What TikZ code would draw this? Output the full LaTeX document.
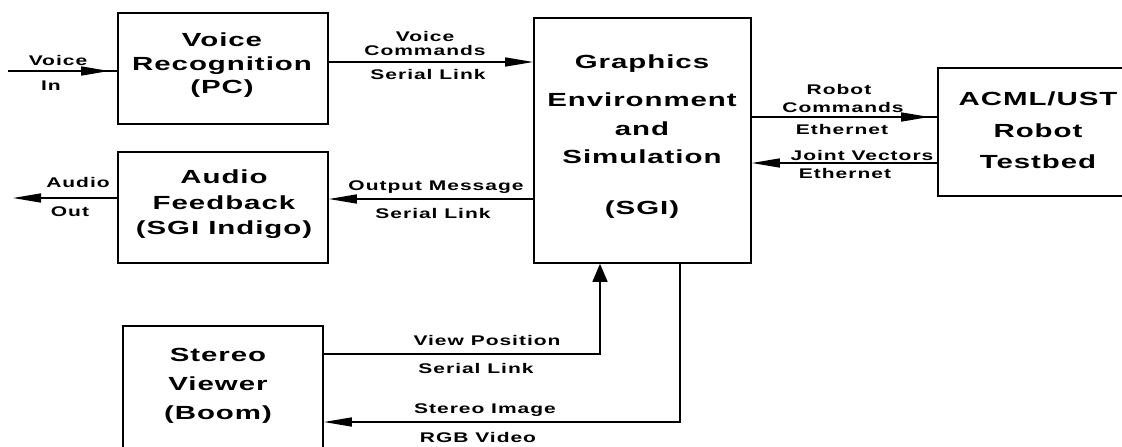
\documentclass[tikz,border=0pt]{standalone}
\usepackage{fontspec}
\newfontfamily\boxfont{Liberation Sans}[FakeStretch=1.55,LetterSpace=5]
\newfontfamily\lblfont{Liberation Sans}[FakeStretch=1.5,LetterSpace=7]
\usetikzlibrary{arrows.meta}
\begin{document}
\begin{tikzpicture}[x=1pt,y=-1pt,
  box/.style={draw,line width=1.6pt,inner sep=0pt},
  btxt/.style={align=center,inner sep=0pt,font=\boxfont\bfseries\fontsize{19}{#1}\selectfont},
  lbl/.style={inner sep=0pt,text height=10pt,text depth=0pt,font=\lblfont\bfseries\fontsize{14}{16}\selectfont},
  conn/.style={line width=1.5pt},
  tip/.style={-{Triangle[length=28pt,width=9pt]}},
  uptip/.style={-{Triangle[length=18pt,width=15pt]}}]
\useasboundingbox (0,0) rectangle (1122,447);

% boxes
\node[box,minimum width=210pt,minimum height=111pt] (vr) at (223,68.5) {};
\node[box,minimum width=210pt,minimum height=111pt] (af) at (223,207.5) {};
\node[box,minimum width=217pt,minimum height=245pt] (ge) at (642.5,140.5) {};
\node[box,minimum width=212pt,minimum height=128pt] (ac) at (1044,132) {};
\node[box,minimum width=200pt,minimum height=150pt] (sv) at (223,401) {};

% box texts
\node[btxt=23.5] (vrt) at (222,65.5) {Voice\\Recognition\\(PC)};
\node[btxt=25.5] (aft) at (224,204.5) {Audio\\Feedback\\(SGI Indigo)};
\node[btxt=28.5] (get) at (642,137) {Graphics\\[9.5pt]Environment\\and\\Simulation\\[22.5pt](SGI)};
\node[btxt=31.5] (act) at (1038,130.5) {ACML/UST\\Robot\\Testbed};
\node[btxt=29] (svt) at (218,386) {Stereo\\Viewer\\(Boom)};

% coordinates of connector levels
\coordinate (vin) at (8,71);
\coordinate (vc) at (0,62);
\coordinate (aout) at (13,198);
\coordinate (om) at (0,199);
\coordinate (rc) at (0,117);
\coordinate (jv) at (0,163);
\coordinate (vp) at (600,354);
\coordinate (si) at (680,422);

% connectors
\draw[conn] (vin) -- (vr.west |- vin);
\draw[conn,tip,shorten >=8pt] (vin) -- (vr.west |- vin);
\draw[conn,tip] (vr.east |- vc) -- (ge.west |- vc);
\draw[conn,tip] (af.west |- aout) -- (aout);
\draw[conn,tip] (ge.west |- om) -- (af.east |- om);
\draw[conn] (ge.east |- rc) -- (ac.west |- rc);
\draw[conn,tip,shorten >=8pt] (ge.east |- rc) -- (ac.west |- rc);
\draw[conn,tip] (ac.west |- jv) -- (ge.east |- jv);
\draw[conn,uptip] (sv.east |- vp) -| (ge.south -| vp);
\draw[conn,tip] (ge.south -| si) |- (sv.east |- si);

% labels
\node[lbl] (l1) at (58,60) {Voice};
\node[lbl] (l2) at (51,85) {In};
\node[lbl] (l3) at (425,36) {Voice};
\node[lbl] (l4) at (425,50) {Commands};
\node[lbl] (l5) at (428,74) {Serial Link};
\node[lbl] (l6) at (436,185) {Output Message};
\node[lbl] (l7) at (433,213) {Serial Link};
\node[lbl] (l8) at (78,182) {Audio};
\node[lbl] (l9) at (70,211) {Out};
\node[lbl] (l10) at (839,89) {Robot};
\node[lbl] (l11) at (843,107) {Commands};
\node[lbl] (l12) at (842,129) {Ethernet};
\node[lbl] (l13) at (862,155) {Joint Vectors};
\node[lbl] (l14) at (845,173) {Ethernet};
\node[lbl] (l15) at (487,340) {View Position};
\node[lbl] (l16) at (476,368) {Serial Link};
\node[lbl] (l17) at (485,408) {Stereo Image};
\node[lbl] (l18) at (478,437) {RGB Video};
\end{tikzpicture}
\end{document}
